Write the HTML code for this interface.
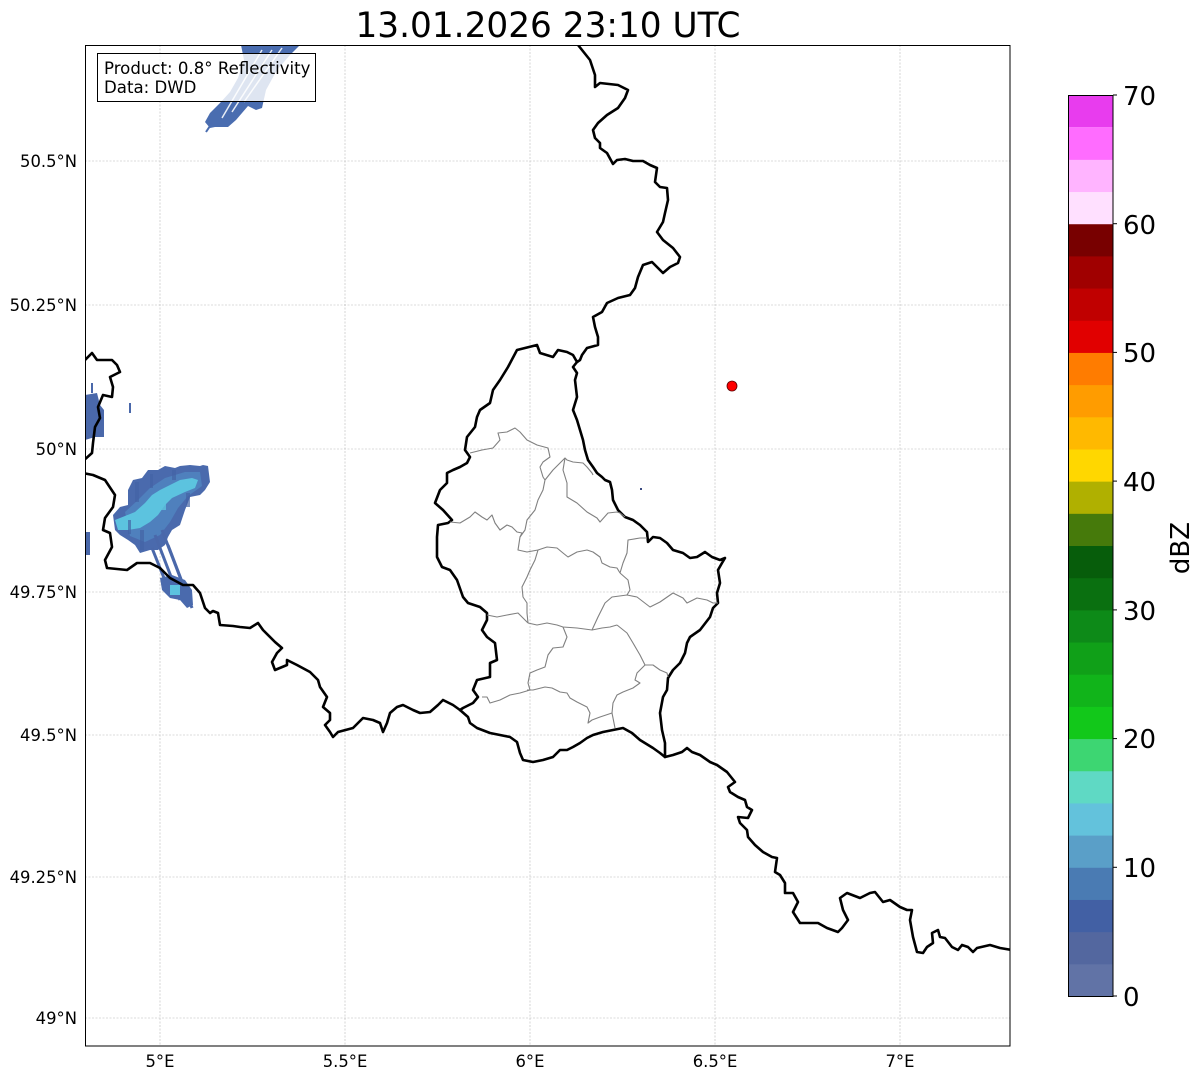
<!DOCTYPE html>
<html><head><meta charset="utf-8"><style>
html,body{margin:0;padding:0;background:#fff;}
svg{display:block;font-family:"DejaVu Sans","Liberation Sans",sans-serif;}
</style></head><body>
<svg width="1202" height="1081" viewBox="0 0 1202 1081" xmlns="http://www.w3.org/2000/svg">
<rect width="1202" height="1081" fill="#fff"/>
<defs><clipPath id="ax"><rect x="85" y="45" width="925" height="1001"/></clipPath></defs>
<g clip-path="url(#ax)">
<!-- gridlines -->
<g stroke="#b8b8b8" stroke-width="0.6" stroke-dasharray="2,1.5" fill="none">
<line x1="160" y1="45" x2="160" y2="1046"/><line x1="345" y1="45" x2="345" y2="1046"/><line x1="530" y1="45" x2="530" y2="1046"/><line x1="715" y1="45" x2="715" y2="1046"/><line x1="900" y1="45" x2="900" y2="1046"/>
<line x1="85" y1="161" x2="1010" y2="161"/><line x1="85" y1="305" x2="1010" y2="305"/><line x1="85" y1="449" x2="1010" y2="449"/><line x1="85" y1="592" x2="1010" y2="592"/><line x1="85" y1="735" x2="1010" y2="735"/><line x1="85" y1="877" x2="1010" y2="877"/><line x1="85" y1="1018" x2="1010" y2="1018"/>
</g>
<!-- radar top streak -->
<polygon fill="#4a6db0" points="241,45 300,45 290,55 277,70 266,90 262,108 256,110 248,106 236,120 228,127 215,127 210,128 205,122 210,113 220,103 230,92 238,78 244,60"/>
<g stroke="#e6ecf5" stroke-width="1.5"><line x1="222" y1="118" x2="262" y2="50"/><line x1="232" y1="112" x2="272" y2="50"/><line x1="244" y1="102" x2="282" y2="48"/></g>
<line x1="212" y1="123" x2="206" y2="132" stroke="#4a6db0" stroke-width="2"/>
<!-- left edge blobs -->
<polygon fill="#4a68aa" points="85,395 97,393 100,405 104,410 104,437 95,437 85,440"/>
<rect x="91" y="383" width="2" height="10" fill="#4a68aa"/>
<rect x="129" y="403" width="2" height="10" fill="#4a68aa"/>
<rect x="85" y="532" width="5" height="23" fill="#4a68aa"/>
<!-- main blob -->
<polygon fill="#4a6aad" points="113,515 120,507 128,505 128,490 133,480 142,478 148,470 158,470 165,466 175,468 180,466 190,465 200,466 203,465 208,466 210,482 205,490 200,495 190,497 185,510 180,525 172,530 168,537 165,545 158,550 150,550 140,553 135,545 128,540 120,535 115,530"/>
<polygon fill="#4f80bd" points="125,512 138,500 150,488 165,478 185,472 200,472 202,486 188,496 178,508 170,522 160,535 145,542 130,536"/>
<polygon fill="#5cc3df" points="115,520 125,516 135,512 145,503 152,495 160,490 168,486 180,480 192,478 198,480 195,488 185,492 172,498 165,505 158,515 150,522 140,528 128,530 118,530"/>
<g fill="#4464a6" opacity="0.7">
<rect x="135" y="482" width="4" height="20"/><rect x="150" y="474" width="3" height="14"/><rect x="172" y="470" width="4" height="10"/><rect x="186" y="493" width="4" height="14"/><rect x="140" y="530" width="4" height="20"/><rect x="128" y="520" width="3" height="14"/>
</g>
<g fill="#5cc3df" opacity="0.8">
<rect x="160" y="498" width="6" height="12"/><rect x="177" y="484" width="8" height="8"/>
</g>
<g stroke="#4a68aa" stroke-width="3"><line x1="155" y1="535" x2="180" y2="600"/><line x1="162" y1="530" x2="188" y2="598"/><line x1="168" y1="545" x2="192" y2="608"/><line x1="152" y1="548" x2="168" y2="588"/></g>
<polygon fill="#4a6aad" points="160,578 172,575 185,580 192,590 193,605 187,608 180,600 170,598 162,590"/>
<rect x="170" y="585" width="10" height="10" fill="#5cc3df"/>
<!-- borders -->
<g fill="none" stroke="#000" stroke-width="2.6" stroke-linejoin="round" stroke-linecap="round">
<polyline points="578,45 590,60 595,75 595,87 600,83 618,85 628,90 625,98 618,108 607,115 598,123 593,130 595,138 600,143 600,148 607,153 613,164 617,160 625,159 633,161 643,161 650,165 657,168 655,182 660,187 667,188 668,200 665,213 663,222 657,232 663,240 673,248 680,257 678,263 670,267 663,273 652,262 643,265 638,277 635,288 630,295 618,298 607,303 602,312 593,317 595,327 598,337 598,345 587,348 582,355 580,360 577,362 573,367 577,373 575,380 577,397 573,410 577,420 580,430 583,440 585,450 588,460 593,467 597,473 602,477 605,480 610,482 612,490 613,500 618,510 625,517 633,520 640,525 647,532 648,542 653,537 660,538 667,543 673,550 683,553 690,558 697,557 705,552 712,557 720,560 725,558 722,563 718,570 720,583 717,593 718,603 713,608 710,617 700,630 690,637 687,643 685,653 680,663 673,670 668,678 667,690 663,697 660,713 662,730 665,743 665,757 673,755 682,752 687,748 692,752 700,755 710,762 717,765 727,772 735,782 728,787 730,792 738,797 745,800 747,807 752,810 748,818 738,817 740,823 747,830 748,837 755,845 763,852 772,857 777,858 775,872 780,875 785,883 785,893 793,893 798,902 793,912 800,923 810,923 818,923 827,928 838,932 842,928 848,920 843,910 840,898 847,893 860,898 870,893 875,892 883,902 890,900 900,907 907,910 912,910 910,920 913,937 917,952 923,953 927,947 933,943 932,933 938,930 940,937 945,938 952,947 958,950 962,945 968,947 973,952 977,948 990,945 1000,948 1012,950"/>
<polyline points="577,362 573,355 567,352 558,350 553,357 540,353 537,345 517,350 508,367 500,380 493,390 490,403 480,410 477,417 475,427 467,437 465,450 470,457 467,463 460,467 453,470 447,473 447,483 440,490 435,503 443,510 452,520 448,523 438,525 437,537 437,557 442,567 450,570 457,580 463,597 468,603 480,607 487,613 487,620 482,630 487,637 495,643 497,660 490,663 490,677 477,680 473,690 478,697 473,703 463,708 460,710"/>
<polyline points="460,710 468,717 470,723 477,728 490,733 500,735 510,737 517,742 520,753 523,760 533,762 543,760 553,757 560,750 567,750 573,747 580,743 587,738 593,735 603,732 613,730 623,728 632,733 640,740 653,748 660,753 665,757"/>
<polyline points="460,710 453,705 443,700 438,705 430,712 420,713 413,710 403,705 397,707 390,713 387,723 383,732 380,723 373,720 363,718 358,723 353,728 338,732 333,737 330,732 325,725 330,720 330,713 323,707 327,697 320,687 318,680 310,672 297,665 287,660 287,665 275,670 272,662 277,653 282,648 275,642 263,630 258,623 250,628 240,627 233,626 220,625 218,613 213,611 210,613 205,608 203,602 200,593 193,585 183,585 170,578 160,568 150,563 137,563 127,570 107,568 105,560 112,547 110,533 103,530 105,518 113,507 115,495 105,480 93,475 83,473"/>
<polyline points="83,362 92,353 97,360 112,360 117,365 120,372 110,377 113,387 112,397 103,395 98,407 100,418 95,427 93,443 92,453 83,461"/>
</g>
<!-- cantons -->
<g fill="none" stroke="#808080" stroke-width="1.1" stroke-linejoin="round">
<polyline points="470,453 482,450 493,448 500,440 498,433 507,432 515,428 520,432 527,440 537,445 548,448 550,457 543,462 540,467 543,477 545,480"/>
<polyline points="545,480 553,470 560,463 565,458 567,460 573,462 583,463 587,467 592,473 593,475"/>
<polyline points="545,480 543,490 538,500 535,510 527,520 525,530 520,537 518,550 527,552 538,550"/>
<polyline points="565,458 563,470 567,483 567,497 577,503 587,512 597,518 600,522 608,513 617,512 620,513 625,517"/>
<polyline points="450,522 460,523 470,517 475,512 482,517 487,520 492,515 495,523 500,530 507,525 512,527 517,532 522,533 520,537"/>
<polyline points="538,550 547,547 557,548 563,553 568,557 577,552 587,550 593,552 600,557 602,563 610,567 617,568 620,573"/>
<polyline points="620,573 623,563 627,553 628,540 640,538 647,538"/>
<polyline points="620,573 628,580 630,590 627,595"/>
<polyline points="538,550 535,560 530,570 527,577 522,587 523,597 527,603 527,613 528,623"/>
<polyline points="528,623 537,625 547,623 557,625 563,627 577,628 592,630 602,628 610,627 617,625"/>
<polyline points="592,630 598,617 605,603 612,597 627,595 637,597 650,607 660,602 673,593 683,598 687,603 697,598 707,600 713,603 718,603"/>
<polyline points="617,625 627,633 633,643 640,655 645,665 653,665 660,670 667,673 668,677"/>
<polyline points="645,665 637,673 635,680 640,683 633,688 623,692 617,695 613,703 612,713"/>
<polyline points="612,713 600,717 592,720 588,723 590,713 587,707 577,702 570,698 567,693 560,692 552,688 545,687 533,690 527,690"/>
<polyline points="612,713 615,728"/>
<polyline points="563,627 567,637 563,647 553,648 548,655 545,667 537,670 530,673 528,683 530,690"/>
<polyline points="528,623 518,613 507,615 497,617 487,615"/>
<polyline points="530,690 520,693 510,695 500,700 490,703 487,697 482,697"/>
</g>
<rect x="640" y="488" width="2" height="2" fill="#3a4a80"/>
<circle cx="732" cy="386" r="5" fill="#ff0000" stroke="#5a0000" stroke-width="0.8"/>
<!-- info box -->
<rect x="97.5" y="53.5" width="218" height="48" fill="#fff" fill-opacity="0.82" stroke="#000" stroke-width="1"/>
<text x="104" y="74" font-size="16.6" fill="#000">Product: 0.8° Reflectivity</text>
<text x="104" y="93" font-size="16.6" fill="#000">Data: DWD</text>
</g>
<rect x="85.5" y="45.5" width="924.5" height="1000.5" fill="none" stroke="#000" stroke-width="1"/>
<!-- title -->
<text x="548" y="37" font-size="34.3" text-anchor="middle" fill="#000">13.01.2026 23:10 UTC</text>
<!-- y labels -->
<g font-size="16.4" text-anchor="end" fill="#000">
<text x="77" y="167">50.5°N</text><text x="77" y="311">50.25°N</text><text x="77" y="455">50°N</text><text x="77" y="598">49.75°N</text><text x="77" y="741">49.5°N</text><text x="77" y="883">49.25°N</text><text x="77" y="1024">49°N</text>
</g>
<g font-size="16.4" text-anchor="middle" fill="#000">
<text x="160" y="1067">5°E</text><text x="345" y="1067">5.5°E</text><text x="530" y="1067">6°E</text><text x="715" y="1067">6.5°E</text><text x="900" y="1067">7°E</text>
</g>
<!-- colorbar -->
<g>
<rect x="1068" y="963.82" width="45" height="32.68" fill="#6173a6"/>
<rect x="1068" y="931.64" width="45" height="32.68" fill="#53679f"/>
<rect x="1068" y="899.46" width="45" height="32.68" fill="#4260a4"/>
<rect x="1068" y="867.29" width="45" height="32.68" fill="#4a7bb3"/>
<rect x="1068" y="835.11" width="45" height="32.68" fill="#5a9fc8"/>
<rect x="1068" y="802.93" width="45" height="32.68" fill="#63c2dc"/>
<rect x="1068" y="770.75" width="45" height="32.68" fill="#5fd9c4"/>
<rect x="1068" y="738.57" width="45" height="32.68" fill="#3dd672"/>
<rect x="1068" y="706.39" width="45" height="32.68" fill="#12c81a"/>
<rect x="1068" y="674.21" width="45" height="32.68" fill="#11b41a"/>
<rect x="1068" y="642.04" width="45" height="32.68" fill="#10a018"/>
<rect x="1068" y="609.86" width="45" height="32.68" fill="#0d8a18"/>
<rect x="1068" y="577.68" width="45" height="32.68" fill="#0a7010"/>
<rect x="1068" y="545.50" width="45" height="32.68" fill="#075d0b"/>
<rect x="1068" y="513.32" width="45" height="32.68" fill="#467a0b"/>
<rect x="1068" y="481.14" width="45" height="32.68" fill="#b0b000"/>
<rect x="1068" y="448.96" width="45" height="32.68" fill="#ffd700"/>
<rect x="1068" y="416.79" width="45" height="32.68" fill="#ffb900"/>
<rect x="1068" y="384.61" width="45" height="32.68" fill="#ff9c00"/>
<rect x="1068" y="352.43" width="45" height="32.68" fill="#ff7c00"/>
<rect x="1068" y="320.25" width="45" height="32.68" fill="#e10000"/>
<rect x="1068" y="288.07" width="45" height="32.68" fill="#c00000"/>
<rect x="1068" y="255.89" width="45" height="32.68" fill="#a00000"/>
<rect x="1068" y="223.71" width="45" height="32.68" fill="#780000"/>
<rect x="1068" y="191.54" width="45" height="32.68" fill="#ffe0ff"/>
<rect x="1068" y="159.36" width="45" height="32.68" fill="#ffb4ff"/>
<rect x="1068" y="127.18" width="45" height="32.68" fill="#ff6cff"/>
<rect x="1068" y="95" width="45" height="32.18" fill="#e83cee"/>
<rect x="1068.5" y="95.5" width="44.5" height="901" fill="none" stroke="#000" stroke-width="1"/>
<g stroke="#000" stroke-width="1">
<line x1="1113" y1="996" x2="1117" y2="996"/><line x1="1113" y1="867.3" x2="1117" y2="867.3"/><line x1="1113" y1="738.6" x2="1117" y2="738.6"/><line x1="1113" y1="609.9" x2="1117" y2="609.9"/><line x1="1113" y1="481.1" x2="1117" y2="481.1"/><line x1="1113" y1="352.4" x2="1117" y2="352.4"/><line x1="1113" y1="223.7" x2="1117" y2="223.7"/><line x1="1113" y1="95" x2="1117" y2="95"/>
</g>
<g font-size="26" fill="#000">
<text x="1123" y="1006">0</text><text x="1123" y="877">10</text><text x="1123" y="748">20</text><text x="1123" y="620">30</text><text x="1123" y="491">40</text><text x="1123" y="362">50</text><text x="1123" y="234">60</text><text x="1123" y="105">70</text>
</g>
<text transform="translate(1189,548) rotate(-90)" font-size="26" text-anchor="middle" fill="#000">dBZ</text>
</g>
</svg>
</body></html>
